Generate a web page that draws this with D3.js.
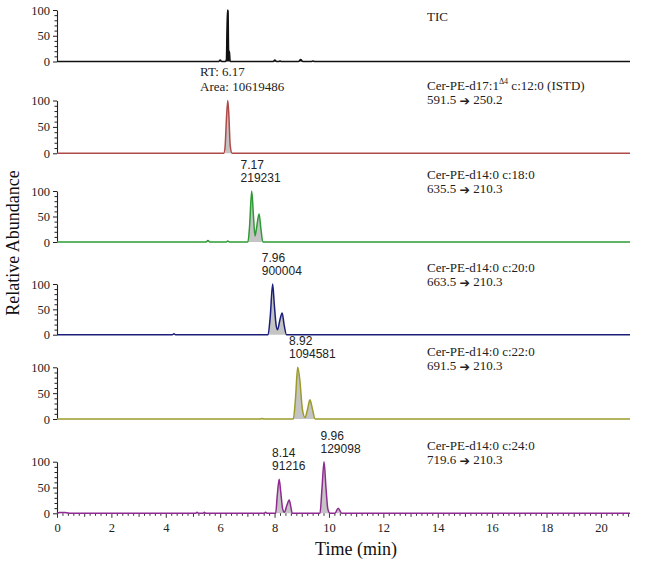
<!DOCTYPE html>
<html><head><meta charset="utf-8">
<script src="https://cdn.jsdelivr.net/npm/d3@7"></script>
<style>
html,body{margin:0;padding:0;background:#fff;}
svg{display:block;}
</style></head>
<body><svg id="c" width="646" height="569"></svg>
<script>
// ---------- data (time in min, relative abundance %) ----------
const xTickValues = [0,2,4,6,8,10,12,14,16,18,20];
const yTickValues = [0,50,100];
const panelNames = ["TIC","ISTD","C18","C20","C22","C24"];

const ticTrace = [[0,0],[5.95,0],[6.0,3],[6.05,0],[6.19,0],[6.23,4],[6.25,60],[6.27,100],[6.29,98],[6.31,22],[6.34,18],[6.37,0],
  [7.95,0],[8.01,3],[8.07,0],[8.15,0],[8.2,1],[8.25,0],[8.88,0],[8.96,4],[9.04,0],[9.35,0],[9.41,1],[9.47,0],[21.07,0]];
const istdTrace = [[0,0],[6.13,0],[6.18,12],[6.23,65],[6.28,100],[6.32,72],[6.37,14],[6.44,0],[21.07,0]];
const c18Trace = [[0,0],[5.48,0],[5.55,3],[5.62,0],[6.22,0],[6.28,2],[6.34,0],[7.02,0],[7.08,30],[7.16,100],[7.22,55],[7.28,12],[7.33,25],[7.43,55],[7.5,25],[7.57,0],[21.07,0]];
const c20Trace = [[0,0],[4.24,0],[4.3,2],[4.36,0],[7.76,0],[7.84,35],[7.93,100],[7.99,60],[8.06,18],[8.11,10],[8.2,30],[8.28,43],[8.35,20],[8.44,0],[21.07,0]];
const c22Trace = [[0,0],[7.48,0],[7.54,1],[7.6,0],[8.69,0],[8.77,40],[8.85,100],[8.93,75],[9.02,20],[9.12,3],[9.21,18],[9.3,37],[9.39,20],[9.49,0],[21.07,0]];
const c24Trace = [[0,0],[0.1,1.5],[0.3,1.5],[0.5,0],[5.1,0],[5.15,2],[5.2,0],[5.37,0],[5.42,2],[5.47,0],[7.62,0],[7.67,2],[7.72,0],
  [8.04,0],[8.1,35],[8.17,66],[8.23,40],[8.3,8],[8.36,2],[8.45,15],[8.54,26],[8.6,12],[8.65,0],
  [9.67,0],[9.74,45],[9.82,100],[9.89,50],[9.96,8],[10.04,0],[10.22,0],[10.34,10],[10.47,0],[21.07,0]];
const traces = [ticTrace, istdTrace, c18Trace, c20Trace, c22Trace, c24Trace];

const compoundNames = ["TIC","Cer-PE-d17:1|Δ4| c:12:0 (ISTD)","Cer-PE-d14:0 c:18:0","Cer-PE-d14:0 c:20:0","Cer-PE-d14:0 c:22:0","Cer-PE-d14:0 c:24:0"];
const precursorMz = ["","591.5","635.5","663.5","691.5","719.6"];
const productMz   = ["","250.2","210.3","210.3","210.3","210.3"];

// peak annotations: panel index, label left time, peak height, two lines
const peakLabelPanel = [1,2,3,4,5,5];
const peakLabelTime  = [5.26,6.75,7.53,8.53,7.91,9.69];
const peakLabelHeight= [100,100,100,100,66,100];
const peakLabelLine1 = ["RT: 6.17","7.17","7.96","8.92","8.14","9.96"];
const peakLabelLine2 = ["Area: 10619486","219231","900004","1094581","91216","129098"];

// ---------- layout & style ----------
const panelY100 = [10,100.5,191,284,367.3,461.7];
const panelY0   = [61.5,153.3,242,334.7,419,513.3];
const lineColors = ["#111111","#b04a48","#2e9a35","#1c1f7a","#9c9b2a","#8e2a92"];
const fillColors = ["#111111","#c4c4c4","#c4c4c4","#c4c4c4","#c4c4c4","#c4c4c4"];

const svg = d3.select("#c");
const x = d3.scaleLinear().domain([0,21.07]).range([57,630]);
const serif = "'Liberation Serif','Times New Roman',serif";
const sans = "'Liberation Sans',Arial,sans-serif";

traces.forEach((tr,i)=>{
  const y = d3.scaleLinear().domain([0,100]).range([panelY0[i],panelY100[i]]);
  const g = svg.append("g");
  const area = d3.area().x(d=>x(d[0])).y0(y(0)).y1(d=>y(d[1])).curve(d3.curveMonotoneX);
  const line = d3.line().x(d=>x(d[0])).y(d=>y(d[1])).curve(d3.curveMonotoneX);
  g.append("path").datum(tr).attr("d",area).attr("fill",fillColors[i]).attr("stroke","none");
  // minor y ticks
  const minor = d3.range(10,100,10).filter(v=>v!==50);
  g.append("g").attr("transform",`translate(${x(0)},0)`)
    .call(d3.axisLeft(y).tickValues(minor).tickSize(2.5).tickFormat("").tickSizeOuter(0))
    .call(a=>a.select(".domain").remove())
    .selectAll("line").attr("stroke","#222");
  const ya = g.append("g").attr("transform",`translate(${x(0)},0)`)
    .call(d3.axisLeft(y).tickValues(yTickValues).tickSize(4).tickPadding(3).tickSizeOuter(0));
  ya.select(".domain").attr("stroke","#222").attr("stroke-width",1.1);
  ya.selectAll("line").attr("stroke","#222");
  ya.selectAll("text").attr("font-family",serif).attr("font-size","12.5px").attr("fill","#222");
  if(i===5){
    const xm = d3.range(0,21.01,0.2).map(v=>+v.toFixed(1)).filter(v=>Math.abs(v-Math.round(v))>1e-6);
    g.append("g").attr("transform",`translate(0,${y(0)})`)
      .call(d3.axisBottom(x).tickValues(xm).tickSize(2.5).tickFormat("").tickSizeOuter(0))
      .call(a=>a.select(".domain").remove())
      .selectAll("line").attr("stroke","#333");
    const xi = d3.range(1,22,2);
    g.append("g").attr("transform",`translate(0,${y(0)})`)
      .call(d3.axisBottom(x).tickValues(xi).tickSize(3.5).tickFormat("").tickSizeOuter(0))
      .call(a=>a.select(".domain").remove())
      .selectAll("line").attr("stroke","#333");
    const xa = g.append("g").attr("transform",`translate(0,${y(0)})`)
      .call(d3.axisBottom(x).tickValues(xTickValues).tickSize(4.5).tickPadding(5).tickFormat(d3.format("d")).tickSizeOuter(0));
    xa.select(".domain").remove();
    xa.selectAll("line").attr("stroke","#333");
    xa.selectAll("text").attr("font-family",serif).attr("font-size","12.5px").attr("fill","#222");
  }
  g.append("path").datum(tr).attr("d",line).attr("fill","none")
    .attr("stroke",lineColors[i]).attr("stroke-width",1.5);

  // right side annotation
  const nm = compoundNames[i];
  const t1 = g.append("text").attr("x",427).attr("y",i===0?18:panelY0[i]-66)
    .attr("dominant-baseline","middle").attr("font-family",serif).attr("font-size","13px").attr("fill","#222");
  const parts = nm.split("|");
  parts.forEach((p,k)=>{
    if(k===1){ t1.append("tspan").attr("font-size","8px").attr("dy",-5).text(p); }
    else if(k===2){ t1.append("tspan").attr("dy",5).text(p); }
    else t1.append("tspan").text(p);
  });
  if(precursorMz[i]){
    const t2 = g.append("text").attr("x",427).attr("y",panelY0[i]-52)
      .attr("dominant-baseline","middle").attr("font-family",serif).attr("font-size","13px").attr("fill","#222");
    t2.append("tspan").text(precursorMz[i]+" ");
    t2.append("tspan").attr("font-family","'DejaVu Sans',sans-serif").attr("font-size","12.5px").attr("font-weight","bold").text("\u2794");
    t2.append("tspan").text(" "+productMz[i]);
  }
});

// peak labels
peakLabelPanel.forEach((p,k)=>{
  const y = d3.scaleLinear().domain([0,100]).range([panelY0[p],panelY100[p]]);
  const isSerif = p===1;
  const yTop = y(peakLabelHeight[k]);
  const fam = isSerif?serif:sans, fs = isSerif?"13px":"12px";
  svg.append("text").attr("x",x(peakLabelTime[k])).attr("y",yTop-(isSerif?27:25))
    .attr("dominant-baseline","middle").attr("font-family",fam).attr("font-size",fs).attr("fill","#222").text(peakLabelLine1[k]);
  svg.append("text").attr("x",x(peakLabelTime[k])).attr("y",yTop-12)
    .attr("dominant-baseline","middle").attr("font-family",fam).attr("font-size",fs).attr("fill","#222").text(peakLabelLine2[k]);
});

// axis titles
svg.append("text").attr("transform","translate(15,243) rotate(-90)")
  .attr("text-anchor","middle").attr("dominant-baseline","middle")
  .attr("font-family",serif).attr("font-size","18px").attr("fill","#111").text("Relative Abundance");
svg.append("text").attr("x",356).attr("y",551)
  .attr("text-anchor","middle").attr("dominant-baseline","middle")
  .attr("font-family",serif).attr("font-size","18px").attr("fill","#111").text("Time (min)");
</script></body></html>
